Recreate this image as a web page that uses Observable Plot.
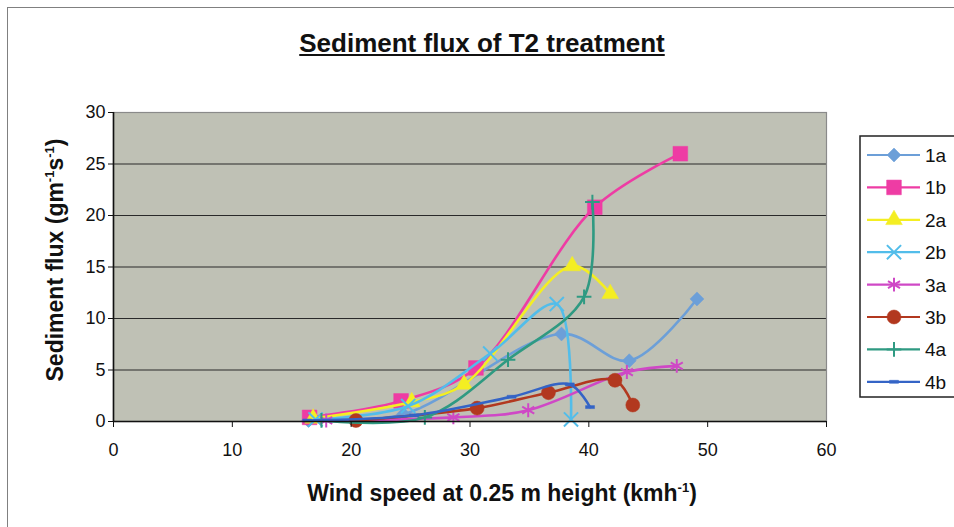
<!DOCTYPE html>
<html><head><meta charset="utf-8">
<script src="https://cdn.jsdelivr.net/npm/d3@7"></script>
<script src="https://cdn.jsdelivr.net/npm/@observablehq/plot@0.6"></script>
<style>
body{margin:0;background:#fff;}
#wrap{position:relative;width:954px;height:527px;overflow:hidden;font-family:"Liberation Sans",Arial,sans-serif;background:#fff;}
#border{position:absolute;left:7px;top:7px;width:1000px;height:600px;border:1.5px solid #808080;}
#title{position:absolute;left:0;width:964px;top:30px;line-height:26px;text-align:center;font-weight:bold;font-size:26px;text-decoration:underline;color:#111;}
#chart{position:absolute;left:0;top:0;}
</style></head>
<body>
<div id="wrap"><div id="border"></div><div id="chart"></div><div id="title">Sediment flux of T2 treatment</div></div>
<script>
// ---- data ----
const series = ["1a", "1b", "2a", "2b", "3a", "3b", "4a", "4b"];
const seriesColors = ["#6c9fd8", "#ee3ca4", "#f4ee22", "#52bdea", "#cf48c6", "#b2381f", "#2f9a82", "#3464c6"];
const xTicks = [0, 10, 20, 30, 40, 50, 60];
const yTicks = [0, 5, 10, 15, 20, 25, 30];

const x1a = [16.4, 24.4, 37.7, 43.4, 49.1];
const y1a = [0.1, 0.7, 8.5, 5.9, 11.9];
const x1b = [16.5, 24.2, 30.5, 40.5, 47.7];
const y1b = [0.4, 2.0, 5.2, 20.8, 26.0];
const x2a = [16.8, 25.1, 29.5, 38.6, 41.8];
const y2a = [0.3, 1.9, 3.6, 15.1, 12.4];
const x2b = [17.0, 24.8, 31.7, 37.3, 38.5];
const y2b = [0.2, 1.5, 6.6, 11.4, 0.2];
const x3a = [17.9, 28.6, 34.9, 43.2, 47.4];
const y3a = [0.1, 0.4, 1.1, 4.8, 5.4];
const x3b = [20.4, 30.6, 36.6, 42.2, 43.7];
const y3b = [0.1, 1.3, 2.8, 4.0, 1.6];
const x4a = [17.5, 26.2, 33.2, 39.6, 40.3];
const y4a = [0.1, 0.4, 6.0, 12.1, 21.3];
const x4b = [16.3, 25.3, 33.5, 38.4, 40.1];
const y4b = [0.1, 0.6, 2.4, 3.6, 1.4];

const xs = [x1a, x1b, x2a, x2b, x3a, x3b, x4a, x4b];
const ys = [y1a, y1b, y2a, y2b, y3a, y3b, y4a, y4b];

// ---- build table ----
const data = [];
series.forEach((s, i) => xs[i].forEach((x, j) => data.push({series: s, x, y: ys[i][j]})));

const dash = {draw(ctx, size) { const r = Math.sqrt(size / Math.PI); ctx.moveTo(-r, -1.5); ctx.lineTo(r, -1.5); ctx.lineTo(r, 1.5); ctx.lineTo(-r, 1.5); ctx.closePath(); }};
const markerSpec = {
  "1a": {symbol: "diamond2", r: 6.3, filled: true},
  "1b": {symbol: "square", r: 8.3, filled: true},
  "2a": {symbol: "triangle", r: 6.2, filled: true},
  "2b": {symbol: "times", r: 6.5, filled: false},
  "3a": {symbol: "asterisk", r: 6.6, filled: false},
  "3b": {symbol: "circle", r: 7, filled: true},
  "4a": {symbol: "plus", r: 4.8, filled: false},
  "4b": {symbol: dash, r: 4.5, filled: true}
};

const marks = [
  Plot.frame({fill: "#bfc1b5", stroke: null}),
  Plot.gridY(yTicks.filter(v => v > 0 && v < 30), {stroke: "#2a2a2a", strokeOpacity: 1, strokeWidth: 1.2}),
  Plot.frame({stroke: "#8a8a8a", strokeWidth: 1.2})
];
series.forEach((s) => {
  const d = data.filter(r => r.series === s);
  const m = markerSpec[s];
  marks.push(Plot.line(d, {x: "x", y: "y", stroke: "series", strokeWidth: 2.6, curve: "catmull-rom"}));
  marks.push(Plot.dot(d, m.filled
    ? {x: "x", y: "y", symbol: m.symbol, r: m.r, fill: "series", stroke: "series", strokeWidth: 0.5}
    : {x: "x", y: "y", symbol: m.symbol, r: m.r, stroke: "series", strokeWidth: 2}));
});
marks.push(
  Plot.ruleY([0], {stroke: "#111", strokeWidth: 1.6}),
  Plot.ruleX([0], {stroke: "#111", strokeWidth: 1.6}),
  Plot.axisX({ticks: xTicks, tickSize: 6, tickPadding: 16, fontSize: 18, label: null, stroke: "#111"}),
  Plot.axisY({ticks: yTicks, tickSize: 5, tickPadding: 3, fontSize: 18, label: null, stroke: "#111"})
);

const chart = Plot.plot({
  width: 954, height: 527,
  marginLeft: 113, marginRight: 128, marginTop: 112, marginBottom: 106,
  style: {background: "transparent", fontFamily: "'Liberation Sans', Arial, sans-serif", color: "#111"},
  x: {domain: [0, 60]},
  y: {domain: [0, 30]},
  color: {domain: series, range: seriesColors},
  marks
});
document.getElementById("chart").appendChild(chart);

// ---- axis titles and legend ----
const svg = d3.select(chart);
const xt = svg.append("text").attr("x", 502).attr("y", 501).attr("text-anchor", "middle")
  .attr("font-size", 23).attr("font-weight", "bold").attr("fill", "#111");
xt.append("tspan").text("Wind speed at 0.25 m height (kmh");
xt.append("tspan").attr("dy", -9).attr("font-size", 13).text("-1");
xt.append("tspan").attr("dy", 9).text(")");

const yt = svg.append("text").attr("transform", "translate(63,260) rotate(-90)").attr("text-anchor", "middle")
  .attr("font-size", 23).attr("font-weight", "bold").attr("fill", "#111");
yt.append("tspan").text("Sediment flux (gm");
yt.append("tspan").attr("dy", -9).attr("font-size", 13).text("-1");
yt.append("tspan").attr("dy", 9).text("s");
yt.append("tspan").attr("dy", -9).attr("font-size", 13).text("-1");
yt.append("tspan").attr("dy", 9).text(")");

const color = chart.scale("color");
const lg = svg.append("g").attr("text-anchor", "start");
lg.append("rect").attr("x", 860).attr("y", 136).attr("width", 120).attr("height", 261)
  .attr("fill", "#fff").attr("stroke", "#222").attr("stroke-width", 1.5);
const symMap = {diamond2: d3.symbolDiamond2, square: d3.symbolSquare, triangle: d3.symbolTriangle, times: d3.symbolTimes, asterisk: d3.symbolAsterisk, circle: d3.symbolCircle, plus: d3.symbolPlus};
series.forEach((s, i) => {
  const yy = 155 + i * 32.4;
  const c = color.apply(s);
  const m = markerSpec[s];
  lg.append("line").attr("x1", 867).attr("x2", 920).attr("y1", yy).attr("y2", yy).attr("stroke", c).attr("stroke-width", 2.2);
  const type = typeof m.symbol === "string" ? symMap[m.symbol] : m.symbol;
  const p = lg.append("path").attr("transform", `translate(894,${yy})`)
    .attr("d", d3.symbol(type, Math.PI * m.r * m.r)());
  if (m.filled) p.attr("fill", c).attr("stroke", c).attr("stroke-width", 0.5);
  else p.attr("fill", "none").attr("stroke", c).attr("stroke-width", 2);
  lg.append("text").attr("x", 925).attr("y", yy + 7).attr("text-anchor", "start").attr("font-size", 19).attr("fill", "#111").text(s);
});
</script>
</body></html>
